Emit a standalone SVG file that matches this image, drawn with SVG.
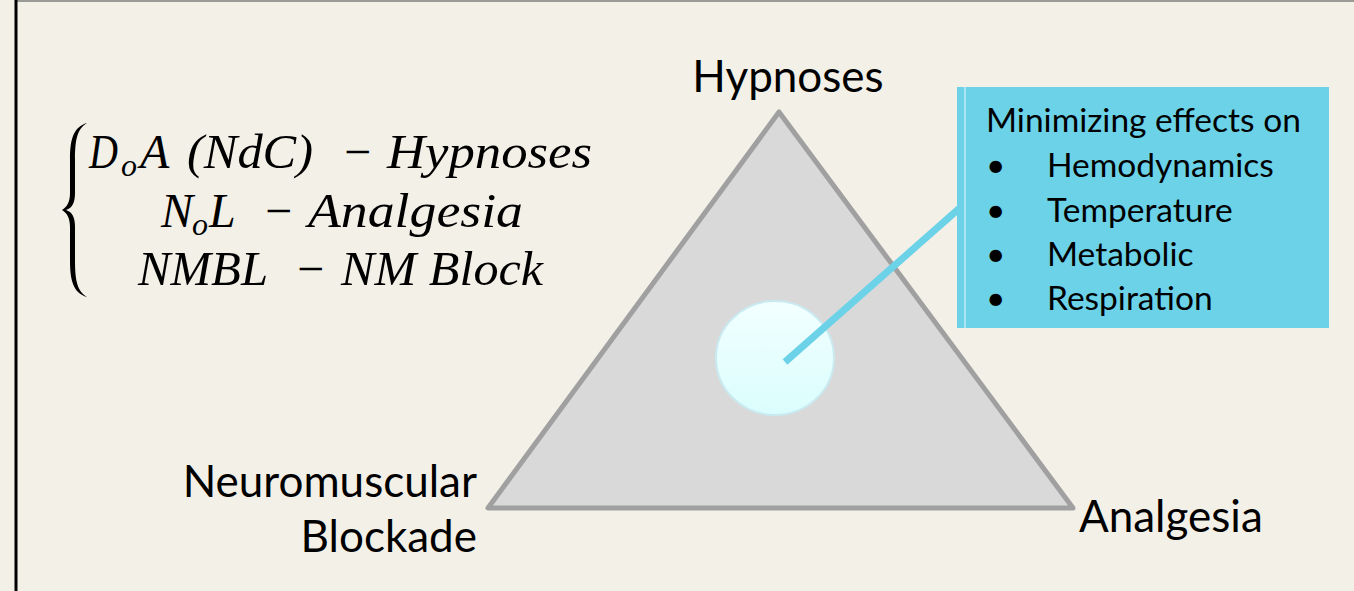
<svg xmlns="http://www.w3.org/2000/svg" width="1354" height="591" viewBox="0 0 1354 591">
<defs>
<style>
.lbl{font-family:Lato,"Open Sans","Liberation Sans",sans-serif;fill:#000;}
.math{font-family:"Liberation Serif","DejaVu Serif",serif;font-style:italic;font-size:48px;fill:#000;}
.sub{font-size:32px;}
</style>
<linearGradient id="cg" x1="0" y1="0" x2="0" y2="1">
<stop offset="0" stop-color="#f2ffff"/>
<stop offset="1" stop-color="#dbfdfd"/>
</linearGradient>
</defs>
<rect x="0" y="0" width="1354" height="591" fill="#f3f0e8"/>
<line x1="16" y1="1" x2="1354" y2="1" stroke="#9a9a96" stroke-width="2"/>
<line x1="16" y1="0" x2="16" y2="591" stroke="#000" stroke-width="3"/>

<g id="equations">
<path d="M87,123 C73,127 70,140 70,160 L70,193 C70,202 67,207 62,210 C67,213 70,218 70,227 L70,260 C70,280 73,293 87,297 C77,291 75,280 75,260 L75,227 C75,217 72,212 66,210 C72,208 75,203 75,193 L75,160 C75,140 77,129 87,123 Z" fill="#000"/>
<text class="math" y="168"><tspan x="89" textLength="29" lengthAdjust="spacingAndGlyphs">D</tspan><tspan x="121" y="176" class="sub">o</tspan><tspan x="140" y="168">A</tspan><tspan x="187" textLength="126" lengthAdjust="spacingAndGlyphs">(NdC)</tspan><tspan x="341">−</tspan><tspan x="387" textLength="205" lengthAdjust="spacingAndGlyphs">Hypnoses</tspan></text>
<text class="math" y="227"><tspan x="161">N</tspan><tspan x="192" y="235" class="sub">o</tspan><tspan x="209" y="227">L</tspan><tspan x="262">−</tspan><tspan x="308" textLength="215" lengthAdjust="spacingAndGlyphs">Analgesia</tspan></text>
<text class="math" y="285"><tspan x="138" textLength="130" lengthAdjust="spacingAndGlyphs">NMBL</tspan><tspan x="294">−</tspan><tspan x="341" textLength="202" lengthAdjust="spacingAndGlyphs">NM Block</tspan></text>
</g>

<g id="triangle">
<polygon points="779,112 488,508 1073,508" fill="#d9d9d9" stroke="#a0a0a0" stroke-width="5" stroke-linejoin="round"/>
</g>

<g id="center-circle">
<ellipse cx="775" cy="358" rx="59" ry="57" fill="url(#cg)" stroke="#c9eaf1" stroke-width="2"/>
</g>

<g id="connectors">
<line x1="785" y1="362" x2="962" y2="206" stroke="#6bd2e8" stroke-width="7"/>
</g>

<g id="effects-box">
<rect x="957" y="87" width="372" height="241" fill="#6bd2e8"/>
<line x1="965" y1="87" x2="965" y2="328" stroke="#e8f8fc" stroke-width="1"/>
<text class="lbl" font-size="33.5" x="986" y="132">Minimizing effects on</text>
<g class="lbl" font-size="33.5">
<text x="986" y="177">•</text><text x="1047" y="177">Hemodynamics</text>
<text x="986" y="222">•</text><text x="1047" y="222">Temperature</text>
<text x="986" y="266">•</text><text x="1047" y="266">Metabolic</text>
<text x="986" y="310">•</text><text x="1047" y="310">Respiration</text>
</g>
</g>

<g id="label-hypnoses"><text class="lbl" font-size="44" x="788" y="92" text-anchor="middle">Hypnoses</text></g>
<g id="label-nm"><text class="lbl" font-size="44" text-anchor="end"><tspan x="477" y="497">Neuromuscular</tspan><tspan x="477" y="552">Blockade</tspan></text></g>
<g id="label-analgesia"><text class="lbl" font-size="44" x="1079" y="532">Analgesia</text></g>
</svg>
